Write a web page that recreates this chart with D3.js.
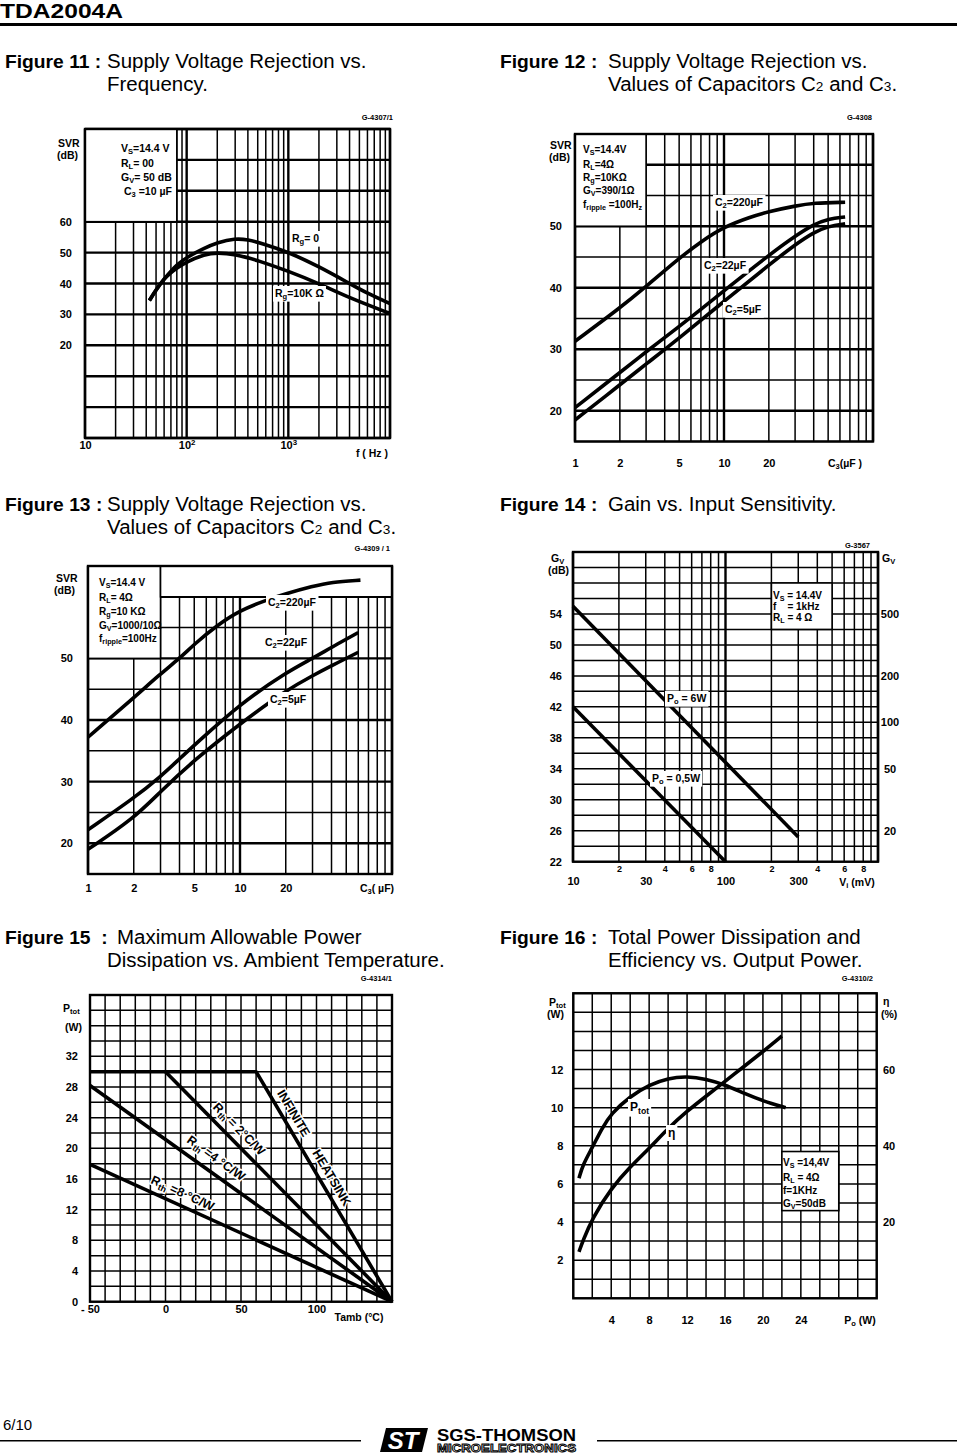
<!DOCTYPE html>
<html><head><meta charset="utf-8">
<script src="https://cdn.jsdelivr.net/npm/d3@7"></script>
<style>html,body{margin:0;padding:0;background:#fff;}svg{display:block;}</style>
</head><body>
<script>
// ================= DATA =================
// Figure 11 : SVR vs frequency
const f11_freq_rg0 = [43,50,60,70,80,100,150,200,300,400,550,1000,2000,4000,6000,10000];
const f11_svr_rg0  = [34.5,38,41.5,44,46,48.5,51.5,53.3,54.6,54.2,53,50.2,45.5,40,36.8,33.5];
const f11_freq_rg10k = [43,50,60,70,80,100,150,200,300,500,1000,2000,4000,10000];
const f11_svr_rg10k  = [34.5,38,41.5,43.5,45,47,49.5,50,49.5,47.5,44,40,35.3,30.3];
const f11_yticks = [20,30,40,50,60];
const f11_xticks = [10,100,1000];
const f11_xlabels = ["10","10^{2}","10^{3}"];

// Figure 12 : SVR vs C3 (Gv = 390/1)
const f12_c3_220 = [1,2,3,5,7,10,15,20,30,40,65];
const f12_svr_220 = [31.3,36.7,40.2,44.8,47.5,49.9,51.5,52.4,53.3,53.8,53.9];
const f12_c3_22 = [1,2,3,5,7,10,20,30,40,50,65];
const f12_svr_22 = [20.5,26.2,29.6,33.7,36.5,39.5,45.3,48.4,50.3,51.2,51.5];
const f12_c3_5 = [1,2,3,5,10,20,30,40,50,65];
const f12_svr_5 = [18.5,24.2,27.6,31.8,37.8,43.7,47,49,50,50.4];
const f12_yticks = [20,30,40,50];
const f12_xticks = [1,2,5,10,20];

// Figure 13 : SVR vs C3 (Gv = 1000/10)
const f13_c3_220 = [1,2,3,4,5,7,10,15,20,30,40,62];
const f13_svr_220 = [37.2,43.6,47.5,50,52.3,55.3,57.8,59.5,60.5,61.7,62.4,62.7];
const f13_c3_22 = [1,2,3,4,5,10,20,30,40,60];
const f13_svr_22 = [22.2,27.3,30.8,33.7,35.9,42.6,47.7,50,51.8,54.2];
const f13_c3_5 = [1,2,3,5,10,20,30,40,60];
const f13_svr_5 = [19,24,28.4,33.5,39.4,44.8,47.2,48.8,51];
const f13_yticks = [20,30,40,50];
const f13_xticks = [1,2,5,10,20];

// Figure 14 : Gain vs input sensitivity
const f14_vi_6w = [10,300];
const f14_gv_6w = [55,25.2];
const f14_vi_05w = [10,100];
const f14_gv_05w = [42,22];
const f14_yticks = [22,26,30,34,38,42,46,50,54];
const f14_gvticks = [20,50,100,200,500];
const f14_xticks = [10,30,100,300];
const f14_xminor = [20,40,60,80,200,400,600,800];

// Figure 15 : Max allowable power vs ambient temperature
const f15_t_inf = [-50,60,150];  const f15_p_inf = [30,30,0];
const f15_t_rth2 = [0,150];      const f15_p_rth2 = [30,0];
const f15_t_rth4 = [-50,150];    const f15_p_rth4 = [28.2,0];
const f15_t_rth8 = [-50,150];    const f15_p_rth8 = [17.9,0];
const f15_yticks = [0,4,8,12,16,20,24,28,32];
const f15_xticks = [-50,0,50,100];

// Figure 16 : Total power dissipation and efficiency vs output power
const f16_po_ptot = [0.6,1,2,3,4,6,8,10,12,14,16,18,20,22.4];
const f16_ptot    = [6.3,7.0,7.9,8.9,9.7,10.6,11.2,11.55,11.65,11.5,11.2,10.75,10.35,10.0];
const f16_po_eta  = [0.6,1,2,4,6,8,10,12,14,16,18,20,22];
const f16_eta     = [12.2,15,21,28.9,34.5,39.3,44.6,49.1,53,56.9,60.8,64.7,68.8];
const f16_yticks = [2,4,6,8,10,12];
const f16_etaticks = [20,40,60];
const f16_xticks = [4,8,12,16,20,24];

// ================= DRAWING =================
const FONT = "'Liberation Sans',Arial,sans-serif";
const svg = d3.select('body').append('svg').attr('width',957).attr('height',1456)
  .attr('font-family',FONT);
svg.append('rect').attr('width',957).attr('height',1456).attr('fill','#fff');

function addRich(t, str, fs){
  const re = /([_^])\{([^}]*)\}/g; let last=0, m; const parts=[];
  while((m=re.exec(str))){ if(m.index>last) parts.push({t:str.slice(last,m.index),k:''});
    parts.push({t:m[2],k:m[1]}); last=re.lastIndex; }
  if(last<str.length) parts.push({t:str.slice(last),k:''});
  let cur=0;
  parts.forEach(p=>{
    const want = p.k==='_'? fs*0.3 : p.k==='^' ? -fs*0.4 : 0;
    t.append('tspan').attr('dy', want-cur).attr('font-size', p.k? fs*0.72 : fs).text(p.t);
    cur = want;
  });
}
function label(parent, str, x, y, o={}){
  const fs=o.fs||10.5;
  const t = parent.append('text').attr('x',x).attr('y',y)
    .attr('font-size',fs).attr('font-weight',o.weight||'bold')
    .attr('text-anchor',o.anchor||'start').attr('dominant-baseline','central')
    .style('white-space','pre');
  addRich(t,str,fs);
  if(o.bg){
    const b=t.node().getBBox();
    parent.insert('rect',()=>t.node()).attr('x',b.x-2).attr('y',b.y-1)
      .attr('width',b.width+4).attr('height',b.height+2).attr('fill','#fff');
  }
  return t;
}

function makeChart(c){
  const g = svg.append('g');
  const x = (c.xlog? d3.scaleLog(): d3.scaleLinear()).domain(c.xd).range([c.l,c.r]);
  const y = d3.scaleLinear().domain(c.yd).range([c.b,c.t]);
  g.append('g').selectAll('line').data(c.xgrid).join('line')
    .attr('x1',d=>x(d)).attr('x2',d=>x(d)).attr('y1',c.t).attr('y2',c.b)
    .attr('stroke','#000').attr('stroke-width',d=>(c.xmajor||[]).includes(d)?2.4:1.5);
  g.append('g').selectAll('line').data(c.ygrid).join('line')
    .attr('y1',d=>y(d)).attr('y2',d=>y(d)).attr('x1',c.l).attr('x2',c.r)
    .attr('stroke','#000').attr('stroke-width',d=>(c.ymajor||[]).includes(d)?2.4:1.5);
  (c.boxes||[]).forEach(bx=>{
    const x0=x(bx.x[0]), x1=x(bx.x[1]), y0=y(bx.y[1]), y1=y(bx.y[0]);
    g.append('rect').attr('x',x0).attr('y',y0).attr('width',x1-x0).attr('height',y1-y0)
      .attr('fill','#fff').attr('stroke','#000').attr('stroke-width',1.6);
  });
  g.append('rect').attr('x',c.l).attr('y',c.t).attr('width',c.r-c.l).attr('height',c.b-c.t)
    .attr('fill','none').attr('stroke','#000').attr('stroke-width',2.4);
  const yR = c.yR || y;
  c.series.forEach(s=>{
    const ys = s.right? yR : y;
    const pts = s.x.map((v,i)=>[v,s.y[i]]);
    g.append('path').datum(pts)
      .attr('d', d3.line().x(d=>x(d[0])).y(d=>ys(d[1])).curve(s.curve||d3.curveBasis))
      .attr('fill','none').attr('stroke','#000').attr('stroke-width',3.6)
      .attr('stroke-linejoin','round').attr('stroke-linecap','butt');
  });
  const fs=11;
  const styleAx = (ax)=>{ ax.select('.domain').remove();
    ax.attr('font-family',FONT).attr('font-size',fs).attr('font-weight','bold'); return ax; };
  styleAx(g.append('g').attr('transform',`translate(${c.l},0)`)
    .call(d3.axisLeft(y).tickValues(c.yticks).tickSize(0).tickPadding(c.ypad).tickFormat(d=>d)));
  const axB = styleAx(g.append('g').attr('transform',`translate(0,${c.b})`)
    .call(d3.axisBottom(x).tickValues(c.xticks).tickSize(0).tickPadding(c.xpad).tickFormat(d=>d)));
  if(c.xfmt){
    axB.selectAll('.tick text').each(function(d){ const t=d3.select(this); t.text(null); addRich(t,c.xfmt(d),fs); });
  }
  (c.texts||[]).forEach(tx=>label(g,tx[0],tx[1],tx[2],tx[3]||{}));
  return {g,x,y};
}

function range(a,b,s){ const r=[]; for(let v=a; v<=b+1e-9; v+=s) r.push(+v.toFixed(6)); return r; }
function logGrid(a,b){ const r=[]; for(let d=a; d<b; d*=10){ for(let k=1;k<10;k++) r.push(d*k);} r.push(b); return r; }

// ---------- Figure 11 ----------
makeChart({
  l:85,r:390,t:129,b:438, xlog:true, xd:[10,10000], yd:[-10,90],
  xgrid: logGrid(10,10000), xmajor:[10,100,1000,10000],
  ygrid: range(-10,90,10), ymajor: range(-10,90,10),
  boxes:[{x:[10,80],y:[60,90]}],
  series:[{x:f11_freq_rg0,y:f11_svr_rg0},{x:f11_freq_rg10k,y:f11_svr_rg10k}],
  yticks:f11_yticks, ypad:13, xticks:f11_xticks, xpad:11,
  xfmt:d=>f11_xlabels[f11_xticks.indexOf(d)],
  texts:[
    ["SVR",58,143,{fs:10.5}],["(dB)",57,155,{fs:10.5}],
    ["G-4307/1",393,117,{fs:7.5,anchor:'end'}],
    ["V_{S}=14.4 V",121,148],["R_{L}= 00",121,163],["G_{V}= 50 dB",121,177],["C_{3} =10 µF",124,191],
    ["R_{g}= 0",292,238,{bg:true}],["R_{g}=10K Ω",275,293,{bg:true}],
    ["f ( Hz )",372,453,{anchor:'middle',fs:10.5}]
  ]
});

// ---------- Figure 12 ----------
makeChart({
  l:575,r:873,t:134,b:441.5, xlog:true, xd:[1,100], yd:[15,65],
  xgrid: logGrid(1,100), xmajor:[1,10,100],
  ygrid: range(15,65,5), ymajor:[20,30,40,50,60],
  boxes:[{x:[1,3],y:[50,65]}],
  series:[{x:f12_c3_220,y:f12_svr_220},{x:f12_c3_22,y:f12_svr_22},{x:f12_c3_5,y:f12_svr_5}],
  yticks:f12_yticks, ypad:13, xticks:f12_xticks, xpad:17.5,
  texts:[
    ["SVR",550,145],["(dB)",549,157],
    ["G-4308",872,117,{fs:7.5,anchor:'end'}],
    ["V_{S}=14.4V",583,149,{fs:10}],["R_{L}=4Ω",583,164,{fs:10}],["R_{g}=10KΩ",583,177,{fs:10}],
    ["G_{V}=390/1Ω",583,190,{fs:10}],["f_{ripple} =100H_{z}",583,204,{fs:10}],
    ["C_{2}=220µF",715,202,{bg:true}],["C_{2}=22µF",704,265,{bg:true}],["C_{2}=5µF",725,309,{bg:true}],
    ["C_{3}(µF )",845,463,{anchor:'middle'}]
  ]
});

// ---------- Figure 13 ----------
makeChart({
  l:88,r:392,t:566,b:874, xlog:true, xd:[1,100], yd:[15,65],
  xgrid: logGrid(1,100), xmajor:[1,10,100],
  ygrid: range(15,65,5), ymajor:[20,30,40,50,60],
  boxes:[{x:[1,3],y:[50,65]},{x:[3,100],y:[60,65]}],
  series:[{x:f13_c3_220,y:f13_svr_220},{x:f13_c3_22,y:f13_svr_22},{x:f13_c3_5,y:f13_svr_5}],
  yticks:f13_yticks, ypad:15, xticks:f13_xticks, xpad:10,
  texts:[
    ["SVR",56,578],["(dB)",54,590],
    ["G-4309 / 1",390,548,{fs:7.5,anchor:'end'}],
    ["V_{S}=14.4 V",99,582,{fs:10}],["R_{L}= 4Ω",99,597,{fs:10}],["R_{g}=10 KΩ",99,611,{fs:10}],
    ["G_{V}=1000/10Ω",99,625,{fs:10}],["f_{ripple}=100Hz",99,638,{fs:10}],
    ["C_{2}=220µF",268,602,{bg:true}],["C_{2}=22µF",265,642,{bg:true}],["C_{2}=5µF",270,699,{bg:true}],
    ["C_{3}( µF)",377,888,{anchor:'middle'}]
  ]
});

// ---------- Figure 14 ----------
const c14 = makeChart({
  l:573,r:878,t:552,b:861.7, xlog:true, xd:[10,1000], yd:[22,62],
  xgrid: logGrid(10,1000), xmajor:[10,100,1000],
  ygrid: range(22,62,2), ymajor:[],
  boxes:[{x:[200,500],y:[52,58]}],
  series:[{x:f14_vi_6w,y:f14_gv_6w,curve:d3.curveLinear},{x:f14_vi_05w,y:f14_gv_05w,curve:d3.curveLinear}],
  yticks:f14_yticks, ypad:11, xticks:f14_xticks, xpad:16,
  texts:[
    ["G_{V}",551,558],["(dB)",548,570],["G_{V}",882,558],
    ["G-3567",870,545,{fs:7.5,anchor:'end'}],
    ["V_{S} = 14.4V",773,595,{fs:10}],["f    = 1kHz",773,606,{fs:10}],["R_{L} = 4 Ω",773,617,{fs:10}],
    ["P_{o} = 6W",667,698,{bg:true}],["P_{o} = 0,5W",652,778,{bg:true}],
    ["V_{i} (mV)",857,882,{anchor:'middle'}]
  ]
});
{
  const gvScale = d3.scaleLog().domain([Math.pow(10,22/20),Math.pow(10,62/20)]).range([861.7,552]);
  const ax = c14.g.append('g').attr('transform','translate(890,0)')
    .call(d3.axisRight(gvScale).tickValues(f14_gvticks).tickSize(0).tickPadding(0).tickFormat(d=>d));
  ax.select('.domain').remove();
  ax.attr('font-family',FONT).attr('font-size',11).attr('font-weight','bold');
  ax.selectAll('text').attr('text-anchor','middle').attr('x',0);
  const axm = c14.g.append('g').attr('transform','translate(0,861.7)')
    .call(d3.axisBottom(c14.x).tickValues(f14_xminor).tickSize(0).tickPadding(4).tickFormat(d=>String(d)[0]));
  axm.select('.domain').remove();
  axm.attr('font-family',FONT).attr('font-size',9).attr('font-weight','bold');
}

// ---------- Figure 15 ----------
const c15 = makeChart({
  l:90,r:392,t:995,b:1301.7, xlog:false, xd:[-50,150], yd:[0,40],
  xgrid: range(-50,150,10), xmajor:[],
  ygrid: range(0,40,2), ymajor:[],
  series:[{x:f15_t_inf,y:f15_p_inf,curve:d3.curveLinear},{x:f15_t_rth2,y:f15_p_rth2,curve:d3.curveLinear},
          {x:f15_t_rth4,y:f15_p_rth4,curve:d3.curveLinear},{x:f15_t_rth8,y:f15_p_rth8,curve:d3.curveLinear}],
  yticks:f15_yticks, ypad:12, xticks:f15_xticks, xpad:11,
  xfmt:d=> d<0 ? "- "+Math.abs(d) : String(d),
  texts:[
    ["P_{tot}",63,1008],["(W)",65,1027],
    ["G-4314/1",392,978,{fs:7.5,anchor:'end'}],
    ["Tamb (°C)",359,1317,{anchor:'middle'}]
  ]
});
{
  const along = (xs,ys,T,str,off)=>{
    let i=0; while(i<xs.length-2 && T>xs[i+1]) i++;
    const x0=c15.x(xs[i]),y0=c15.y(ys[i]),x1=c15.x(xs[i+1]),y1=c15.y(ys[i+1]);
    const f=(T-xs[i])/(xs[i+1]-xs[i]);
    const px=x0+(x1-x0)*f, py=y0+(y1-y0)*f;
    const ang=Math.atan2(y1-y0,x1-x0)*180/Math.PI;
    const gg=c15.g.append('g').attr('transform',`translate(${px},${py}) rotate(${ang})`);
    const t=label(gg,str,0,-off,{anchor:'middle',fs:12.5});
    t.attr('stroke','#fff').attr('stroke-width',3).attr('paint-order','stroke');
  };
  along(f15_t_inf,f15_p_inf,92,"INFINITE     HEATSINK",11);
  along(f15_t_rth2,f15_p_rth2,43,"R_{th} = 2°C/W",12);
  along(f15_t_rth4,f15_p_rth4,28,"R_{th} =4 °C/W",14);
  along(f15_t_rth8,f15_p_rth8,8,"R_{th} =8 °C/W",12);
}

// ---------- Figure 16 ----------
const yEta = d3.scaleLinear().domain([0,80]).range([1298.3,993.3]);
const c16 = makeChart({
  l:573.3,r:876.7,t:993.3,b:1298.3, xlog:false, xd:[0,32], yd:[0,16], yR:yEta,
  xgrid: range(0,32,2), xmajor:[],
  ygrid: range(0,16,1), ymajor:[],
  boxes:[{x:[22,28],y:[4.6,7.7]}],
  series:[{x:f16_po_ptot,y:f16_ptot},{x:f16_po_eta,y:f16_eta,right:true}],
  yticks:f16_yticks, ypad:10, xticks:f16_xticks, xpad:17.7,
  texts:[
    ["P_{tot}",549,1002],["(W)",547,1014],["η",883,1001],["(%)",881,1014],
    ["G-4310/2",873,978,{fs:7.5,anchor:'end'}],
    ["V_{S} =14,4V",783,1162,{fs:10}],["R_{L} = 4Ω",783,1177,{fs:10}],["f=1KHz",783,1190,{fs:10}],["G_{V}=50dB",783,1203,{fs:10}],
    ["P_{tot}",630,1107,{fs:12,bg:true}],["η",668,1133,{fs:12,bg:true}],
    ["P_{o} (W)",860,1320,{anchor:'middle'}]
  ]
});
{
  const ax = c16.g.append('g').attr('transform','translate(889,0)')
    .call(d3.axisRight(yEta).tickValues(f16_etaticks).tickSize(0).tickPadding(0).tickFormat(d=>d));
  ax.select('.domain').remove();
  ax.attr('font-family',FONT).attr('font-size',11).attr('font-weight','bold');
  ax.selectAll('text').attr('text-anchor','middle').attr('x',0);
}

// ================= PAGE TEXT =================
svg.append('text').attr('x',0).attr('y',18).attr('font-size',20).attr('font-weight','bold')
  .attr('textLength',123).attr('lengthAdjust','spacingAndGlyphs').text('TDA2004A');
svg.append('rect').attr('x',0).attr('y',23).attr('width',957).attr('height',3).attr('fill','#000');

const titles = [
  {x:5,  y:68,  bold:'Figure 11 :',  l1:'Supply Voltage Rejection vs.', l2:'Frequency.', x1:107},
  {x:500,y:68,  bold:'Figure 12 :',  l1:'Supply Voltage Rejection vs.', l2:'Values of Capacitors C_{2} and C_{3}.', x1:608},
  {x:5,  y:511, bold:'Figure 13 :',  l1:'Supply Voltage Rejection vs.', l2:'Values of Capacitors C_{2} and C_{3}.', x1:107},
  {x:500,y:511, bold:'Figure 14 :',  l1:'Gain vs. Input Sensitivity.', l2:null, x1:608},
  {x:5,  y:944, bold:'Figure 15  :', l1:'Maximum Allowable Power', l2:'Dissipation vs. Ambient Temperature.', x1:117},
  {x:500,y:944, bold:'Figure 16 :',  l1:'Total Power Dissipation and', l2:'Efficiency vs. Output Power.', x1:608}
];
const stretch = (t,k)=>{ const w=t.node().getComputedTextLength(); t.attr('textLength',w*k).attr('lengthAdjust','spacingAndGlyphs'); };
titles.forEach(tt=>{
  const bt = svg.append('text').attr('x',tt.x).attr('y',tt.y).attr('font-size',18.5)
    .attr('font-weight','bold').style('white-space','pre').text(tt.bold);
  stretch(bt,1.04);
  const sub = (str,x,y)=>{
    const t=svg.append('text').attr('x',x).attr('y',y).attr('font-size',19.5);
    const re=/_\{([^}]*)\}/g; let last=0,m;
    while((m=re.exec(str))){ t.append('tspan').text(str.slice(last,m.index));
      t.append('tspan').attr('font-size',13).text(m[1]); last=re.lastIndex; }
    t.append('tspan').text(str.slice(last));
    stretch(t,1.05);
  };
  sub(tt.l1, tt.x1, tt.y);
  if(tt.l2) sub(tt.l2, tt.x<400?107:608, tt.y+23);
});

// footer
svg.append('text').attr('x',3).attr('y',1430).attr('font-size',15).text('6/10');
svg.append('rect').attr('x',0).attr('y',1440).attr('width',361).attr('height',1.5).attr('fill','#000');
svg.append('rect').attr('x',597).attr('y',1440).attr('width',360).attr('height',1.5).attr('fill','#000');
svg.append('path').attr('d','M386,1428 L428,1428 L422,1452 L380,1452 Z').attr('fill','#000');
svg.append('text').attr('x',403).attr('y',1449).attr('text-anchor','middle').attr('font-size',24)
  .attr('font-weight','bold').attr('font-style','italic').attr('fill','#fff').text('ST');
svg.append('text').attr('x',437).attr('y',1441).attr('font-size',16.5).attr('font-weight','bold')
  .attr('textLength',139).attr('lengthAdjust','spacingAndGlyphs').text('SGS-THOMSON');
svg.append('text').attr('x',437).attr('y',1452).attr('font-size',10.5).attr('font-weight','bold')
  .attr('fill','#fff').attr('stroke','#000').attr('stroke-width',0.9)
  .attr('textLength',139).attr('lengthAdjust','spacingAndGlyphs').text('MICROELECTRONICS');
</script>
</body></html>
